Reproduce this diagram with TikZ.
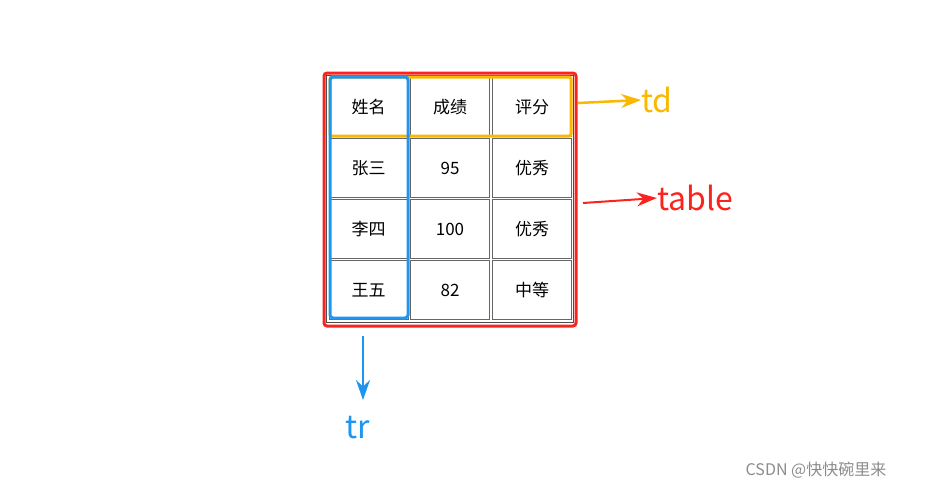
\documentclass[tikz,border=0pt]{standalone}
\usepackage{fontspec}
\setmainfont{Noto Sans CJK SC}
\usetikzlibrary{arrows.meta}
\definecolor{myred}{RGB}{250,35,30}
\definecolor{myblue}{RGB}{30,150,240}
\definecolor{myyellow}{RGB}{250,185,0}
\tikzset{
  cell/.style={draw=black!60, line width=0.8pt, minimum width=79pt, minimum height=59pt, inner sep=0pt, font=\fontsize{17}{17}\selectfont},
  lbl/.style={inner sep=0pt, font=\fontsize{32}{32}\selectfont},
  arr/.style={line width=2.5pt, -{Stealth[length=20pt,width=14pt]}}
}
\begin{document}
\begin{tikzpicture}[x=1pt,y=-1pt]
\useasboundingbox (0,0) rectangle (931,490);
\draw[black!70, line width=0.8pt] (326,75) rectangle (573,322);
\foreach \r/\a/\b [count=\i from 0] in {{姓名}/{成绩}/{评分},{张三}/95/{优秀},{李四}/100/{优秀},{王五}/82/{中等}}{
  \node[cell] (a\i) at (368.5,107+61*\i) {\r};
  \node[cell] (b\i) at (450,107+61*\i) {\a};
  \node[cell] (c\i) at (532,107+61*\i) {\b};
}
\draw[myred, line width=3pt, rounded corners=3pt] (324,73) rectangle (576,326);
\draw[myyellow, line width=3pt, rounded corners=2pt] (330,77) rectangle (571,136);
\draw[myblue, line width=3pt, rounded corners=3pt] (330,77) rectangle (408,318);
\node[lbl, text=myyellow] (td) at (657,100) {td};
\node[lbl, text=myred] (tbl) at (695,198) {table};
\node[lbl, text=myblue] (tr) at (358,428) {tr};
\coordinate (ys) at (578,103);
\coordinate (rs) at (583,203);
\coordinate (bs) at (363,336);
\coordinate (be) at (363,400);
\draw[arr, myyellow] (ys) -- (td.west);
\draw[arr, myred, line width=2pt] (rs) -- (tbl.west);
\draw[arr, myblue, line width=2pt] (bs) -- (be);
\node[inner sep=0pt, text=black!45, font=\fontsize{16}{16}\selectfont] (wm) at (816,470) {CSDN @快快碗里来};
\end{tikzpicture}
\end{document}
